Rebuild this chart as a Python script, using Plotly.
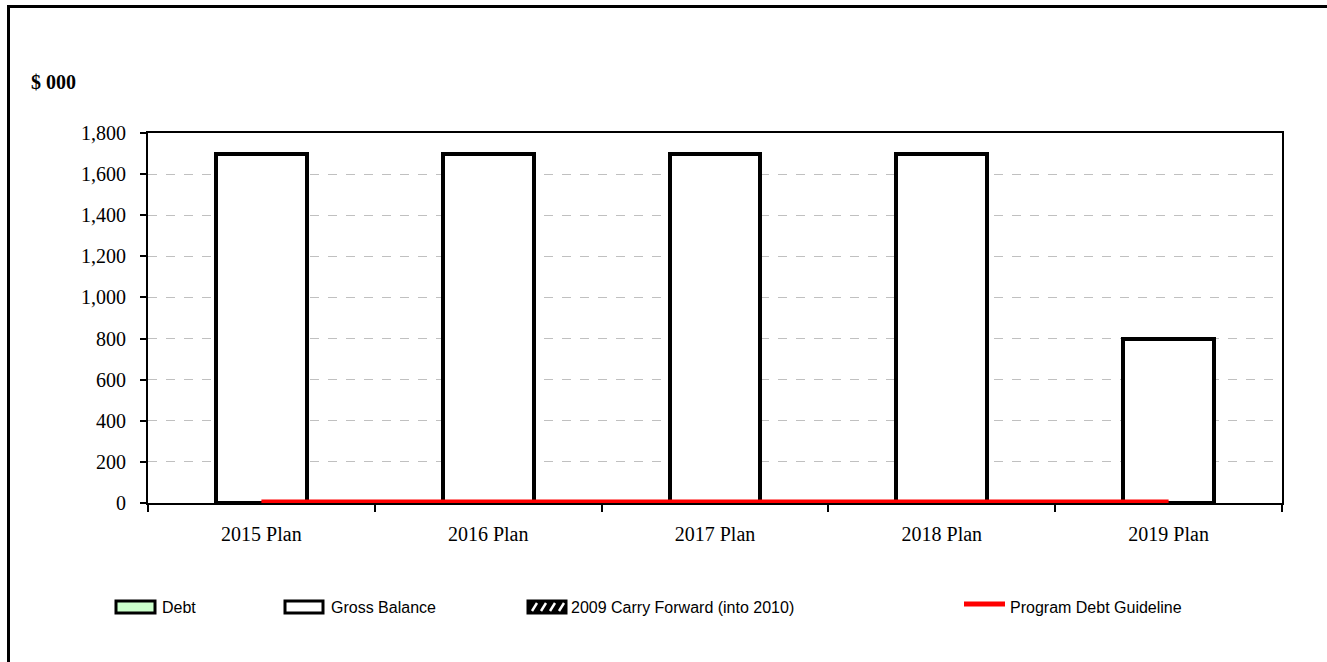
import plotly.graph_objects as go

categories = ["2015 Plan", "2016 Plan", "2017 Plan", "2018 Plan", "2019 Plan"]
debt = [0, 0, 0, 0, 0]
gross_balance = [1700, 1700, 1700, 1700, 800]
carry_forward = [0, 0, 0, 0, 0]
debt_guideline = [0, 0, 0, 0, 0]
y_ticks = [0, 200, 400, 600, 800, 1000, 1200, 1400, 1600, 1800]

W, H = 1327, 662
L, R, T, B = 148, 45, 133, 159
PW, PH = W - L - R, H - T - B


def px(x):
    return (x - L) / PW


def py(y):
    return (H - B - y) / PH


fig = go.Figure()
fig.add_trace(go.Bar(x=categories, y=debt, name="Debt", width=0.4,
                     marker=dict(color="#ccffcc", line=dict(color="black", width=3)),
                     showlegend=False))
fig.add_trace(go.Bar(x=categories, y=gross_balance, name="Gross Balance", width=0.4,
                     marker=dict(color="white", line=dict(color="black", width=4)),
                     showlegend=False))
fig.add_trace(go.Bar(x=categories, y=carry_forward, name="2009 Carry Forward (into 2010)", width=0.4,
                     marker=dict(color="white", line=dict(color="black", width=3),
                                 pattern=dict(shape="/", fgcolor="black", bgcolor="white")),
                     showlegend=False))
fig.add_trace(go.Scatter(x=categories, y=debt_guideline, name="Program Debt Guideline",
                         mode="lines", line=dict(color="red", width=7), showlegend=False))

shapes = []
annotations = []
# outer border
shapes.append(dict(type="rect", xref="paper", yref="paper",
                   x0=px(8.5), y0=py(H + 20), x1=px(W + 20), y1=py(6.5),
                   line=dict(color="black", width=3), fillcolor="rgba(0,0,0,0)", layer="above"))

# manual legend
ly0, ly1 = py(613), py(601)
lyc = py(607)
# Debt
shapes.append(dict(type="rect", xref="paper", yref="paper", x0=px(116), x1=px(155), y0=ly0, y1=ly1,
                   line=dict(color="black", width=3), fillcolor="#ccffcc"))
annotations.append(dict(text="Debt", x=px(160), y=lyc, xanchor="left", yanchor="middle"))
# Gross Balance
shapes.append(dict(type="rect", xref="paper", yref="paper", x0=px(285), x1=px(323), y0=ly0, y1=ly1,
                   line=dict(color="black", width=3), fillcolor="white"))
annotations.append(dict(text="Gross Balance", x=px(329), y=lyc, xanchor="left", yanchor="middle"))
# Carry forward (hatched)
shapes.append(dict(type="rect", xref="paper", yref="paper", x0=px(528), x1=px(566), y0=ly0, y1=ly1,
                   line=dict(color="black", width=3), fillcolor="black"))
for k in range(4):
    xs = 532 + k * 9
    shapes.append(dict(type="line", xref="paper", yref="paper",
                       x0=px(xs), y0=py(611), x1=px(xs + 5), y1=py(603),
                       line=dict(color="white", width=2.5)))
annotations.append(dict(text="2009 Carry Forward (into 2010)", x=px(569), y=lyc,
                        xanchor="left", yanchor="middle"))
# Program Debt Guideline
shapes.append(dict(type="line", xref="paper", yref="paper", x0=px(964), x1=px(1005), y0=py(604), y1=py(604),
                   line=dict(color="red", width=5)))
annotations.append(dict(text="Program Debt Guideline", x=px(1008), y=lyc, xanchor="left", yanchor="middle"))

for a in annotations:
    a.update(xref="paper", yref="paper", showarrow=False,
             font=dict(family="Liberation Sans, Arial", size=16, color="black"))

annotations.append(dict(text="<b>$ 000</b>", xref="paper", yref="paper", x=px(29), y=py(82),
                        xanchor="left", yanchor="middle", showarrow=False,
                        font=dict(family="Liberation Serif, Times New Roman", size=20, color="black")))

serif = dict(family="Liberation Serif, Times New Roman", size=20, color="black")

fig.update_layout(
    width=W, height=H,
    margin=dict(l=L, r=R, t=T, b=B, autoexpand=False),
    paper_bgcolor="white", plot_bgcolor="white",
    barmode="stack", bargap=0.6,
    shapes=shapes, annotations=annotations,
    font=serif,
)
fig.update_xaxes(
    type="category", range=[-0.5, 4.5],
    showline=True, linecolor="black", linewidth=2, mirror=True,
    ticks="outside", tickson="boundaries", ticklen=7, tickwidth=2, tickcolor="black",
    ticklabelstandoff=12, showgrid=False,
    tickfont=serif,
)
fig.update_yaxes(
    range=[0, 1800], tickvals=y_ticks, tickformat=",d",
    showline=True, linecolor="black", linewidth=2, mirror=True,
    ticks="outside", ticklen=6, tickwidth=2, tickcolor="black",
    ticklabelstandoff=10,
    showgrid=True, gridcolor="#c0c0c0", griddash="dash", gridwidth=1,
    zeroline=False,
    tickfont=serif,
)

fig.write_html("out.html")
